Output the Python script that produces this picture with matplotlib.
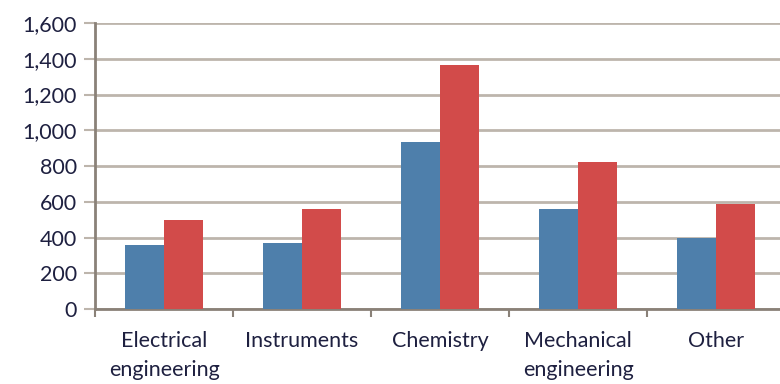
import numpy as np
import matplotlib.pyplot as plt
from matplotlib.ticker import FuncFormatter, FixedLocator

categories = ['Electrical\nengineering', 'Instruments', 'Chemistry', 'Mechanical\nengineering', 'Other']
series_a = [358, 367, 932, 559, 395]
series_b = [498, 558, 1365, 821, 586]
y_ticks = [0, 200, 400, 600, 800, 1000, 1200, 1400, 1600]

blue = '#4E7FAB'
red = '#D24B4A'
grid_col = '#BDB5AC'
axis_col = '#8A8178'
text_col = '#1E2040'

plt.rcParams['font.family'] = ['Lato', 'DejaVu Sans']

fig = plt.figure(figsize=(7.8, 3.84), dpi=100)
ax = fig.add_axes([95 / 780, 1 - 309 / 384, 690 / 780, 286 / 384])

x = np.arange(len(categories))
w = 0.286
ax.bar(x - w / 2, series_a, width=w, color=blue, zorder=3)
ax.bar(x + w / 2, series_b, width=w, color=red, zorder=3)

ax.set_xlim(-0.5, len(categories) - 0.5)
ax.set_ylim(0, 1600)
ax.set_yticks(y_ticks)
ax.yaxis.set_major_formatter(FuncFormatter(lambda v, p: f'{int(v):,}'))
ax.grid(axis='y', color=grid_col, linewidth=2, zorder=0)

ax.set_xticks(x)
ax.set_xticklabels(categories, linespacing=1.55)
ax.xaxis.set_minor_locator(FixedLocator(np.arange(-0.5, len(categories), 1)))
ax.tick_params(axis='x', which='major', length=0, pad=16, labelsize=15.5, labelcolor=text_col)
ax.tick_params(axis='x', which='minor', length=6, width=1.5, color=axis_col)
ax.tick_params(axis='y', length=8, width=1.5, color=grid_col, labelsize=15.5,
               labelcolor=text_col, pad=5)

for s in ['top', 'right']:
    ax.spines[s].set_visible(False)
for s in ['left', 'bottom']:
    ax.spines[s].set_color(axis_col)
    ax.spines[s].set_linewidth(2)

fig.savefig('out.png', dpi=100)
